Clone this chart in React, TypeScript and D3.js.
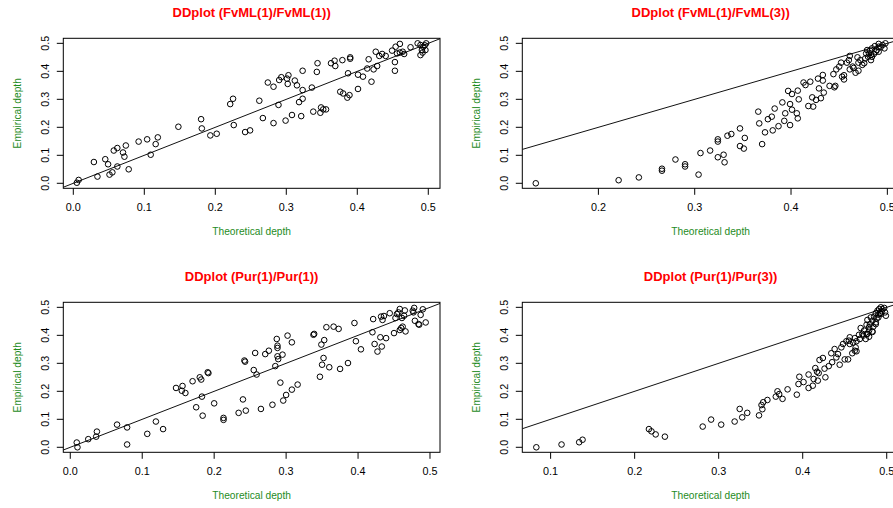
import React, { useEffect, useRef } from 'react';
import * as d3 from 'd3';

// FvML(1) vs FvML(1)
const fvml11Theo = [0.005, 0.0075, 0.029, 0.034, 0.045, 0.049, 0.051, 0.055, 0.057, 0.062, 0.062, 0.070, 0.072, 0.074, 0.078, 0.092, 0.104, 0.109, 0.116, 0.119, 0.148, 0.180, 0.181, 0.193, 0.202, 0.221, 0.225, 0.226, 0.242, 0.249, 0.262, 0.267, 0.274, 0.282, 0.282, 0.289, 0.290, 0.293, 0.299, 0.301, 0.303, 0.302, 0.308, 0.312, 0.315, 0.318, 0.321, 0.323, 0.323, 0.323, 0.336, 0.338, 0.343, 0.344, 0.348, 0.349, 0.352, 0.356, 0.363, 0.368, 0.369, 0.376, 0.379, 0.380, 0.386, 0.387, 0.389, 0.390, 0.390, 0.401, 0.401, 0.408, 0.414, 0.416, 0.420, 0.423, 0.426, 0.428, 0.431, 0.435, 0.440, 0.449, 0.453, 0.453, 0.454, 0.456, 0.460, 0.464, 0.466, 0.475, 0.485, 0.489, 0.491, 0.493, 0.495, 0.497, 0.496, 0.492, 0.460, 0.489];
const fvml11Emp = [0.002, 0.012, 0.076, 0.024, 0.086, 0.068, 0.031, 0.039, 0.117, 0.126, 0.060, 0.110, 0.095, 0.135, 0.050, 0.149, 0.157, 0.102, 0.140, 0.164, 0.202, 0.229, 0.196, 0.171, 0.177, 0.283, 0.302, 0.208, 0.183, 0.189, 0.295, 0.233, 0.360, 0.345, 0.215, 0.280, 0.369, 0.379, 0.224, 0.374, 0.386, 0.355, 0.244, 0.367, 0.350, 0.290, 0.240, 0.302, 0.333, 0.402, 0.342, 0.256, 0.398, 0.429, 0.252, 0.271, 0.264, 0.264, 0.429, 0.438, 0.419, 0.327, 0.440, 0.321, 0.306, 0.393, 0.315, 0.445, 0.450, 0.388, 0.337, 0.381, 0.410, 0.443, 0.363, 0.407, 0.470, 0.419, 0.455, 0.462, 0.455, 0.474, 0.402, 0.433, 0.488, 0.464, 0.498, 0.470, 0.462, 0.486, 0.500, 0.458, 0.476, 0.488, 0.493, 0.500, 0.476, 0.467, 0.467, 0.494];

// FvML(1) vs FvML(3)
const fvml13Theo = [0.135, 0.221, 0.242, 0.266, 0.266, 0.280, 0.290, 0.290, 0.304, 0.306, 0.316, 0.324, 0.324, 0.324, 0.330, 0.331, 0.334, 0.338, 0.347, 0.347, 0.351, 0.352, 0.366, 0.367, 0.370, 0.373, 0.376, 0.380, 0.381, 0.383, 0.387, 0.391, 0.393, 0.394, 0.397, 0.399, 0.399, 0.401, 0.401, 0.406, 0.407, 0.407, 0.408, 0.413, 0.415, 0.418, 0.420, 0.422, 0.423, 0.426, 0.428, 0.429, 0.431, 0.433, 0.433, 0.434, 0.444, 0.445, 0.446, 0.447, 0.450, 0.452, 0.453, 0.455, 0.455, 0.458, 0.460, 0.461, 0.461, 0.465, 0.467, 0.469, 0.470, 0.470, 0.472, 0.474, 0.476, 0.478, 0.480, 0.482, 0.483, 0.484, 0.486, 0.487, 0.489, 0.491, 0.491, 0.493, 0.495, 0.497, 0.498, 0.484, 0.479, 0.481, 0.491, 0.488, 0.483, 0.477, 0.464, 0.440];
const fvml13Emp = [0.000, 0.011, 0.021, 0.045, 0.052, 0.085, 0.060, 0.068, 0.031, 0.108, 0.117, 0.093, 0.149, 0.157, 0.102, 0.075, 0.170, 0.176, 0.196, 0.133, 0.124, 0.162, 0.256, 0.214, 0.140, 0.182, 0.229, 0.238, 0.189, 0.267, 0.204, 0.289, 0.223, 0.250, 0.330, 0.283, 0.208, 0.319, 0.263, 0.250, 0.232, 0.331, 0.300, 0.360, 0.351, 0.276, 0.363, 0.307, 0.274, 0.298, 0.374, 0.339, 0.304, 0.387, 0.367, 0.324, 0.390, 0.343, 0.348, 0.407, 0.417, 0.431, 0.381, 0.371, 0.386, 0.431, 0.440, 0.455, 0.407, 0.412, 0.395, 0.450, 0.402, 0.431, 0.440, 0.423, 0.429, 0.464, 0.452, 0.474, 0.440, 0.482, 0.462, 0.490, 0.476, 0.498, 0.470, 0.486, 0.494, 0.482, 0.500, 0.452, 0.476, 0.464, 0.488, 0.470, 0.458, 0.446, 0.417, 0.348];

// Pur(1) vs Pur(1)
const pur11Theo = [0.010, 0.009, 0.025, 0.036, 0.037, 0.065, 0.079, 0.079, 0.107, 0.119, 0.129, 0.147, 0.156, 0.155, 0.160, 0.170, 0.175, 0.180, 0.182, 0.183, 0.184, 0.191, 0.192, 0.200, 0.213, 0.213, 0.234, 0.240, 0.242, 0.243, 0.244, 0.255, 0.257, 0.259, 0.265, 0.271, 0.276, 0.281, 0.285, 0.287, 0.288, 0.288, 0.288, 0.289, 0.292, 0.295, 0.296, 0.300, 0.302, 0.308, 0.308, 0.316, 0.338, 0.339, 0.347, 0.349, 0.350, 0.352, 0.353, 0.356, 0.360, 0.366, 0.373, 0.375, 0.386, 0.395, 0.397, 0.404, 0.420, 0.421, 0.423, 0.427, 0.431, 0.432, 0.433, 0.434, 0.436, 0.439, 0.444, 0.450, 0.452, 0.454, 0.456, 0.458, 0.458, 0.461, 0.462, 0.464, 0.465, 0.466, 0.477, 0.478, 0.479, 0.484, 0.485, 0.487, 0.490, 0.494, 0.460, 0.476];
const pur11Emp = [0.000, 0.017, 0.029, 0.038, 0.056, 0.081, 0.071, 0.010, 0.048, 0.092, 0.065, 0.212, 0.219, 0.202, 0.194, 0.236, 0.143, 0.250, 0.242, 0.181, 0.113, 0.268, 0.265, 0.157, 0.105, 0.098, 0.123, 0.171, 0.310, 0.306, 0.131, 0.276, 0.337, 0.260, 0.137, 0.333, 0.345, 0.152, 0.290, 0.387, 0.363, 0.355, 0.325, 0.315, 0.231, 0.331, 0.167, 0.187, 0.399, 0.375, 0.206, 0.224, 0.402, 0.405, 0.252, 0.367, 0.295, 0.319, 0.383, 0.429, 0.286, 0.431, 0.423, 0.280, 0.301, 0.444, 0.379, 0.350, 0.411, 0.458, 0.369, 0.342, 0.393, 0.467, 0.360, 0.455, 0.469, 0.390, 0.479, 0.408, 0.462, 0.476, 0.482, 0.494, 0.419, 0.462, 0.431, 0.470, 0.489, 0.414, 0.482, 0.498, 0.452, 0.440, 0.438, 0.473, 0.493, 0.446, 0.426, 0.488];

// Pur(1) vs Pur(3)
const pur13Theo = [0.083, 0.113, 0.134, 0.138, 0.217, 0.220, 0.225, 0.236, 0.281, 0.291, 0.303, 0.319, 0.325, 0.328, 0.334, 0.348, 0.351, 0.352, 0.353, 0.358, 0.368, 0.370, 0.372, 0.376, 0.382, 0.393, 0.395, 0.396, 0.401, 0.407, 0.407, 0.412, 0.413, 0.415, 0.417, 0.418, 0.419, 0.420, 0.424, 0.426, 0.427, 0.431, 0.434, 0.435, 0.438, 0.440, 0.442, 0.444, 0.446, 0.448, 0.450, 0.452, 0.454, 0.456, 0.456, 0.459, 0.460, 0.462, 0.462, 0.463, 0.464, 0.467, 0.469, 0.471, 0.473, 0.475, 0.476, 0.477, 0.477, 0.479, 0.479, 0.480, 0.481, 0.483, 0.483, 0.484, 0.485, 0.487, 0.487, 0.488, 0.489, 0.490, 0.491, 0.492, 0.493, 0.494, 0.495, 0.497, 0.498, 0.499, 0.487, 0.483, 0.476, 0.479, 0.490, 0.468, 0.464, 0.455, 0.472, 0.493];
const pur13Emp = [0.000, 0.010, 0.018, 0.027, 0.065, 0.057, 0.046, 0.038, 0.074, 0.099, 0.081, 0.092, 0.137, 0.107, 0.123, 0.114, 0.151, 0.136, 0.161, 0.169, 0.181, 0.200, 0.190, 0.173, 0.207, 0.188, 0.226, 0.252, 0.233, 0.260, 0.212, 0.220, 0.244, 0.283, 0.270, 0.238, 0.265, 0.312, 0.319, 0.281, 0.250, 0.290, 0.336, 0.304, 0.351, 0.321, 0.333, 0.295, 0.357, 0.369, 0.314, 0.379, 0.314, 0.369, 0.393, 0.336, 0.374, 0.345, 0.390, 0.357, 0.379, 0.402, 0.426, 0.405, 0.417, 0.387, 0.438, 0.405, 0.455, 0.417, 0.395, 0.440, 0.464, 0.412, 0.452, 0.431, 0.467, 0.446, 0.479, 0.460, 0.488, 0.474, 0.494, 0.479, 0.500, 0.486, 0.493, 0.498, 0.482, 0.470, 0.440, 0.414, 0.405, 0.429, 0.464, 0.387, 0.343, 0.381, 0.399, 0.476];

const yTicks = [0, 0.1, 0.2, 0.3, 0.4, 0.5];
const xTicksFull = [0, 0.1, 0.2, 0.3, 0.4, 0.5];
const xTicksFvml13 = [0.2, 0.3, 0.4, 0.5];
const xTicksPur13 = [0.1, 0.2, 0.3, 0.4, 0.5];

const titles = [
  'DDplot (FvML(1)/FvML(1))',
  'DDplot (FvML(1)/FvML(3))',
  'DDplot (Pur(1)/Pur(1))',
  'DDplot (Pur(1)/Pur(3))',
];

const panels = [
  { title: titles[0], theo: fvml11Theo, emp: fvml11Emp, xTicks: xTicksFull, xDomain: [-0.0141, 0.5165], col: 0, row: 0 },
  { title: titles[1], theo: fvml13Theo, emp: fvml13Emp, xTicks: xTicksFvml13, xDomain: [0.121, 0.5121], col: 1, row: 0 },
  { title: titles[2], theo: pur11Theo, emp: pur11Emp, xTicks: xTicksFull, xDomain: [-0.0097, 0.5139], col: 0, row: 1 },
  { title: titles[3], theo: pur13Theo, emp: pur13Emp, xTicks: xTicksPur13, xDomain: [0.0663, 0.5146], col: 1, row: 1 },
];

const font = '"Liberation Sans", Arial, sans-serif';

const App = () => {
  const ref = useRef<SVGSVGElement>(null);

  useEffect(() => {
    const W = 893;
    const H = 508;
    const boxW = 376.7;
    const boxH = 150;

    const svg = d3.select(ref.current);
    svg.selectAll('*').remove();
    svg.append('rect').attr('width', W).attr('height', H).attr('fill', '#fff');

    const fmt = d3.format('.1f');

    panels.forEach((p, i) => {
      const left = 63.3 + p.col * 459;
      const top = 38.3 + p.row * 264;

      const x = d3.scaleLinear().domain(p.xDomain).range([0, boxW]);
      const y = d3.scaleLinear().domain([-0.0179, 0.518]).range([boxH, 0]);

      const g = svg.append('g').attr('transform', `translate(${left},${top})`);

      g.append('clipPath')
        .attr('id', `clip${i}`)
        .append('rect')
        .attr('width', boxW)
        .attr('height', boxH);

      // identity line
      const lo = p.xDomain[0];
      const hi = p.xDomain[1];
      g.append('line')
        .attr('clip-path', `url(#clip${i})`)
        .attr('x1', x(lo))
        .attr('y1', y(lo))
        .attr('x2', x(hi))
        .attr('y2', y(hi))
        .attr('stroke', '#111')
        .attr('stroke-width', 1);

      // points
      g.append('g')
        .selectAll('circle')
        .data(p.theo.map((t, k) => [t, p.emp[k]]))
        .enter()
        .append('circle')
        .attr('cx', (d) => x(d[0]))
        .attr('cy', (d) => y(d[1]))
        .attr('r', 2.8)
        .attr('fill', 'none')
        .attr('stroke', '#000')
        .attr('stroke-width', 1);

      // box
      g.append('rect')
        .attr('width', boxW)
        .attr('height', boxH)
        .attr('fill', 'none')
        .attr('stroke', '#000')
        .attr('stroke-width', 1);

      // x axis ticks
      p.xTicks.forEach((t) => {
        g.append('line')
          .attr('x1', x(t))
          .attr('x2', x(t))
          .attr('y1', boxH)
          .attr('y2', boxH + 6.5)
          .attr('stroke', '#000');
        g.append('text')
          .attr('x', x(t))
          .attr('y', boxH + 22.9)
          .attr('text-anchor', 'middle')
          .attr('font-family', font)
          .attr('font-size', 10.8)
          .attr('fill', '#000')
          .text(fmt(t));
      });

      // y axis ticks
      yTicks.forEach((t) => {
        g.append('line')
          .attr('x1', 0)
          .attr('x2', -6.5)
          .attr('y1', y(t))
          .attr('y2', y(t))
          .attr('stroke', '#000');
        g.append('text')
          .attr('transform', `translate(${-14.4},${y(t)}) rotate(-90)`)
          .attr('text-anchor', 'middle')
          .attr('font-family', font)
          .attr('font-size', 10.8)
          .attr('fill', '#000')
          .text(fmt(t));
      });

      // title
      g.append('text')
        .attr('x', boxW / 2)
        .attr('y', -21.6)
        .attr('text-anchor', 'middle')
        .attr('font-family', font)
        .attr('font-size', 13)
        .attr('font-weight', 'bold')
        .attr('fill', '#ff0000')
        .text(p.title);

      // axis labels
      g.append('text')
        .attr('x', boxW / 2)
        .attr('y', boxH + 47.2)
        .attr('text-anchor', 'middle')
        .attr('font-family', font)
        .attr('font-size', 10.2)
        .attr('fill', '#1e8c1e')
        .text('Theoretical depth');

      g.append('text')
        .attr('transform', `translate(${-42.8},${boxH / 2}) rotate(-90)`)
        .attr('text-anchor', 'middle')
        .attr('font-family', font)
        .attr('font-size', 10.2)
        .attr('fill', '#1e8c1e')
        .text('Empirical depth');
    });
  }, []);

  return (
    <svg
      ref={ref}
      width={893}
      height={508}
      style={{ position: 'absolute', left: 0, top: 0, display: 'block' }}
    />
  );
};

export default App;
